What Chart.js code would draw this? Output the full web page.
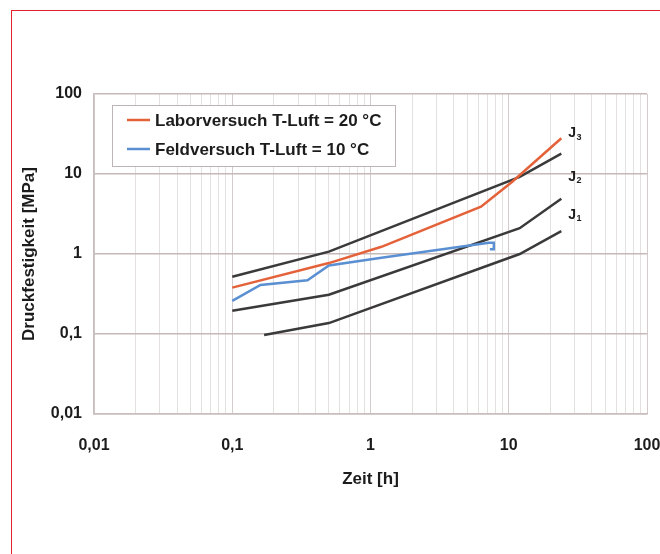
<!DOCTYPE html>
<html><head><meta charset="utf-8">
<script src="https://cdn.jsdelivr.net/npm/chart.js@4/dist/chart.umd.min.js"></script>
<style>
html,body{margin:0;padding:0;background:#fff;overflow:hidden;}
#wrap{position:relative;width:660px;height:554px;overflow:hidden;}
#frame{position:absolute;left:11px;top:10px;width:700px;height:600px;border-top:1.5px solid #e3202c;border-left:1.5px solid #e3202c;}
canvas{position:absolute;left:0;top:0;}
</style></head><body>
<div id="wrap"><div id="frame"></div><canvas id="c" width="660" height="554"></canvas></div>
<script>
// ---- data ----
const xTickValues = [0.01, 0.1, 1, 10, 100];
const xTickLabels = ['0,01', '0,1', '1', '10', '100'];
const yTickValues = [0.01, 0.1, 1, 10, 100];
const yTickLabels = ['0,01', '0,1', '1', '10', '100'];

const laborLabel = 'Laborversuch T-Luft = 20 °C';
const laborTime = [0.1, 0.5, 1.2, 6.3, 10.6, 24];
const laborStrength = [0.38, 0.77, 1.23, 3.9, 8.0, 28];

const feldLabel = 'Feldversuch T-Luft = 10 °C';
const feldTime = [0.1, 0.16, 0.35, 0.5, 1.2, 7.2, 7.8, 7.8, 7.3];
const feldStrength = [0.26, 0.41, 0.47, 0.72, 0.9, 1.38, 1.38, 1.15, 1.15];

const j3Time = [0.1, 0.5, 12, 24];
const j3Strength = [0.52, 1.07, 9.2, 18];
const j2Time = [0.1, 0.5, 12, 24];
const j2Strength = [0.195, 0.31, 2.1, 4.9];
const j1Time = [0.17, 0.5, 12, 24];
const j1Strength = [0.097, 0.137, 1.0, 1.93];

const jNames = ['J', 'J', 'J'];
const jSubs = ['3', '2', '1'];
const jLabelTime = [24, 24, 24];
const jLabelValue = [32, 9.2, 3.1];

const xAxisTitle = 'Zeit [h]';
const yAxisTitle = 'Druckfestigkeit [MPa]';

// ---- helpers ----
const pts = (t, v) => t.map((x, i) => ({x: x, y: v[i]}));
const isDecade = v => Math.abs(Math.log10(v) - Math.round(Math.log10(v))) < 1e-6;
const FONT = '"Liberation Sans", Arial, sans-serif';

const overlay = {
  id: 'overlay',
  afterDatasetsDraw(chart) {
    const {ctx, scales: {x, y}} = chart;
    ctx.save();
    // legend box
    ctx.fillStyle = '#fff';
    ctx.fillRect(112, 105, 283, 61);
    ctx.strokeStyle = '#bdb5b5';
    ctx.lineWidth = 1;
    ctx.strokeRect(112.5, 105.5, 283, 61);
    const items = chart.data.datasets.filter(d => d.inLegend);
    items.forEach((d, i) => {
      const yy = 120 + i * 29;
      ctx.strokeStyle = d.borderColor;
      ctx.lineWidth = 2.5;
      ctx.beginPath(); ctx.moveTo(127, yy); ctx.lineTo(150, yy); ctx.stroke();
      ctx.fillStyle = '#1c1c1c';
      ctx.font = 'bold 17px ' + FONT;
      ctx.textBaseline = 'middle';
      ctx.textAlign = 'left';
      ctx.fillText(d.label, 155, yy + 1);
    });
    // J labels
    jNames.forEach((n, i) => {
      const px = x.getPixelForValue(jLabelTime[i]) + 7;
      const py = y.getPixelForValue(jLabelValue[i]);
      ctx.fillStyle = '#1c1c1c';
      ctx.textBaseline = 'middle';
      ctx.textAlign = 'left';
      ctx.font = 'bold 14px ' + FONT;
      ctx.fillText(n, px, py);
      const w = ctx.measureText(n).width;
      ctx.font = 'bold 9px ' + FONT;
      ctx.fillText(jSubs[i], px + w + 0.5, py + 4);
    });
    ctx.restore();
  }
};

const lineDs = (label, data, color, order, inLegend) => ({
  label, data, borderColor: color, backgroundColor: color,
  showLine: true, pointRadius: 0, borderWidth: 2.5, tension: 0,
  fill: false, order, inLegend
});

new Chart(document.getElementById('c'), {
  type: 'scatter',
  data: {
    datasets: [
      lineDs(laborLabel, pts(laborTime, laborStrength), '#e4623a', 0, true),
      lineDs(feldLabel, pts(feldTime, feldStrength), '#5a8fd2', 1, true),
      lineDs('J3', pts(j3Time, j3Strength), '#3a3a3a', 2, false),
      lineDs('J2', pts(j2Time, j2Strength), '#3a3a3a', 2, false),
      lineDs('J1', pts(j1Time, j1Strength), '#3a3a3a', 2, false)
    ]
  },
  options: {
    responsive: false,
    animation: false,
    events: [],
    layout: {padding: {top: 94, right: 13, left: 0, bottom: 0}},
    plugins: {legend: {display: false}, tooltip: {enabled: false}},
    scales: {
      x: {
        type: 'logarithmic',
        min: xTickValues[0], max: xTickValues[xTickValues.length - 1],
        afterBuildTicks(scale) {
          const t = [];
          for (let k = 0; k < xTickValues.length - 1; k++) {
            for (let m = 1; m < 10; m++) t.push({value: m * xTickValues[k]});
          }
          t.push({value: xTickValues[xTickValues.length - 1]});
          scale.ticks = t;
        },
        afterFit(scale) { scale.height = 140; scale.paddingRight = 0; scale.paddingLeft = 0; },
        ticks: {
          autoSkip: false, maxRotation: 0, padding: 22, color: '#1c1c1c',
          font: {family: FONT, size: 16, weight: 'bold'},
          callback(v) {
            const i = xTickValues.findIndex(d => Math.abs(d - v) / d < 1e-6);
            return i >= 0 ? xTickLabels[i] : '';
          }
        },
        grid: {
          drawTicks: false,
          color: c => isDecade(c.tick.value) ? '#d4cccc' : '#e4e0e0',
          lineWidth: 1
        },
        border: {display: true, color: '#c8bebe', width: 1.5},
        title: {
          display: true, text: xAxisTitle, color: '#1c1c1c',
          font: {family: FONT, size: 17, weight: 'bold'},
          padding: {top: 0, bottom: 64}
        }
      },
      y: {
        type: 'logarithmic',
        min: yTickValues[0], max: yTickValues[yTickValues.length - 1],
        afterBuildTicks(scale) { scale.ticks = yTickValues.map(v => ({value: v})); },
        afterFit(scale) { scale.width = 94; scale.paddingTop = 0; scale.paddingBottom = 0; },
        ticks: {
          autoSkip: false, padding: 12, color: '#1c1c1c',
          font: {family: FONT, size: 16, weight: 'bold'},
          callback(v) {
            const i = yTickValues.findIndex(d => Math.abs(d - v) / d < 1e-6);
            return i >= 0 ? yTickLabels[i] : '';
          }
        },
        grid: {drawTicks: false, color: '#c6b9b9', lineWidth: 1.5},
        border: {display: true, color: '#c8bebe', width: 1.5},
        title: {
          display: true, text: yAxisTitle, color: '#1c1c1c',
          font: {family: FONT, size: 17, weight: 'bold'},
          padding: {top: 19, bottom: 0}
        }
      }
    }
  },
  plugins: [overlay]
});
</script>
</body></html>
